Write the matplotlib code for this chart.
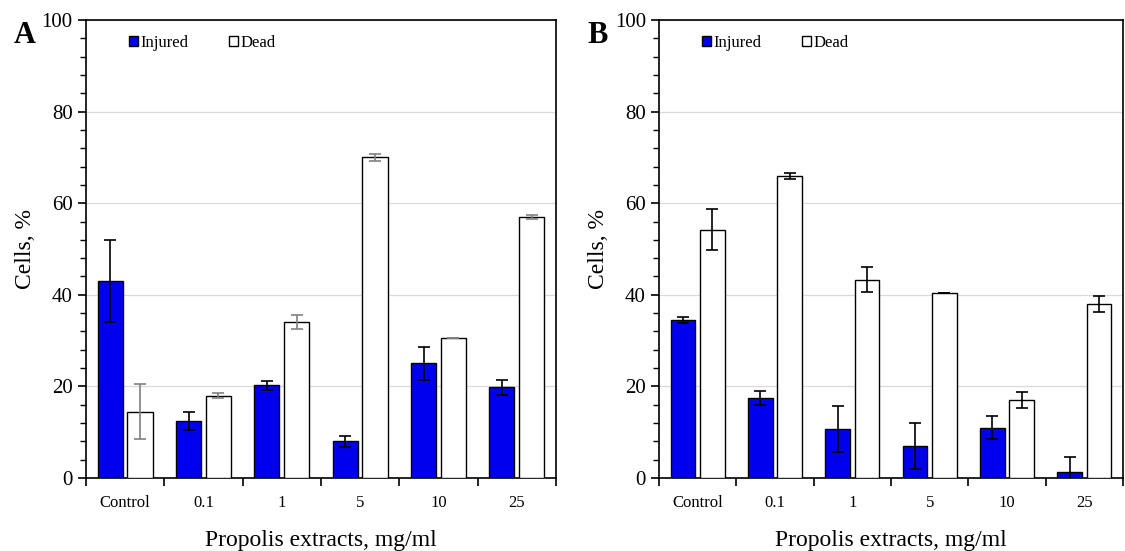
import numpy as np
import matplotlib
matplotlib.use("Agg")
from matplotlib import pyplot as plt
from matplotlib.ticker import MultipleLocator

plt.rcParams['font.family'] = ['Liberation Serif', 'DejaVu Serif']

categories = ["Control", "0.1", "1", "5", "10", "25"]

# panel A
injured_a = [43.0, 12.5, 20.2, 8.0, 25.0, 19.8]
injured_a_err = [9.0, 2.0, 0.9, 1.2, 3.5, 1.7]
dead_a = [14.5, 18.0, 34.0, 70.0, 30.5, 57.0]
dead_a_err = [6.0, 0.5, 1.5, 0.7, 0.0, 0.4]

# panel B
injured_b = [34.5, 17.5, 10.7, 7.0, 11.0, 1.2]
injured_b_err = [0.7, 1.6, 5.1, 5.0, 2.5, 3.3]
dead_b = [54.2, 66.0, 43.3, 40.5, 17.0, 38.0]
dead_b_err = [4.5, 0.7, 2.7, 0.0, 1.7, 1.7]

BLUE = "#0000ee"


def draw_panel(ax, inj, inj_err, dead, dead_err, dead_ecolor):
    x = np.arange(len(categories))
    w = 0.32
    off = 0.19
    ax.bar(x - off, inj, w, color=BLUE, edgecolor="black", linewidth=1.0,
           label="Injured", zorder=3)
    ax.bar(x + off, dead, w, color="white", edgecolor="black", linewidth=1.0,
           label="Dead", zorder=3)
    ax.errorbar(x - off, inj, yerr=inj_err, fmt="none", ecolor="black",
                elinewidth=1.2, capsize=4, capthick=1.2, zorder=4)
    ax.errorbar(x + off, dead, yerr=dead_err, fmt="none", ecolor=dead_ecolor,
                elinewidth=1.2, capsize=4, capthick=1.2, zorder=4)

    ax.set_xlim(-0.5, len(categories) - 0.5)
    ax.set_ylim(0, 100)
    ax.yaxis.set_major_locator(MultipleLocator(20))
    ax.yaxis.set_minor_locator(MultipleLocator(4))
    ax.grid(axis="y", which="major", color="#d9d9d9", linewidth=0.9, zorder=0)

    ax.set_xticks(x)
    ax.set_xticklabels(categories, fontsize=12)
    ax.set_xticks(np.arange(len(categories) + 1) - 0.5, minor=True)
    ax.tick_params(axis="x", which="major", length=0, pad=12)
    ax.tick_params(axis="x", which="minor", length=6, width=1.2, direction="out")
    ax.tick_params(axis="y", which="major", labelsize=15, length=6, width=1.2)
    ax.tick_params(axis="y", which="minor", length=4, width=1.0)

    for s in ax.spines.values():
        s.set_linewidth(1.2)

    ax.set_ylabel("Cells, %", fontsize=17)
    ax.set_xlabel("Propolis extracts, mg/ml", fontsize=17, labelpad=14)
    ax.legend(loc="upper left", bbox_to_anchor=(0.06, 1.0), ncol=2,
              frameon=False, fontsize=12, handlelength=0.55, handleheight=0.6,
              handletextpad=0.15, columnspacing=2.4)
    return ax


fig = plt.figure(figsize=(11.25, 5.51), dpi=100)
ax1 = fig.add_axes([0.0764, 0.1325, 0.4178, 0.8312])
ax2 = fig.add_axes([0.5858, 0.1325, 0.4124, 0.8312])

draw_panel(ax1, injured_a, injured_a_err, dead_a, dead_a_err, "#808080")
draw_panel(ax2, injured_b, injured_b_err, dead_b, dead_b_err, "black")

fig.text(0.012, 0.922, "A", fontsize=22, fontweight="bold")
fig.text(0.522, 0.922, "B", fontsize=22, fontweight="bold")

fig.savefig("out.png", dpi=100)
